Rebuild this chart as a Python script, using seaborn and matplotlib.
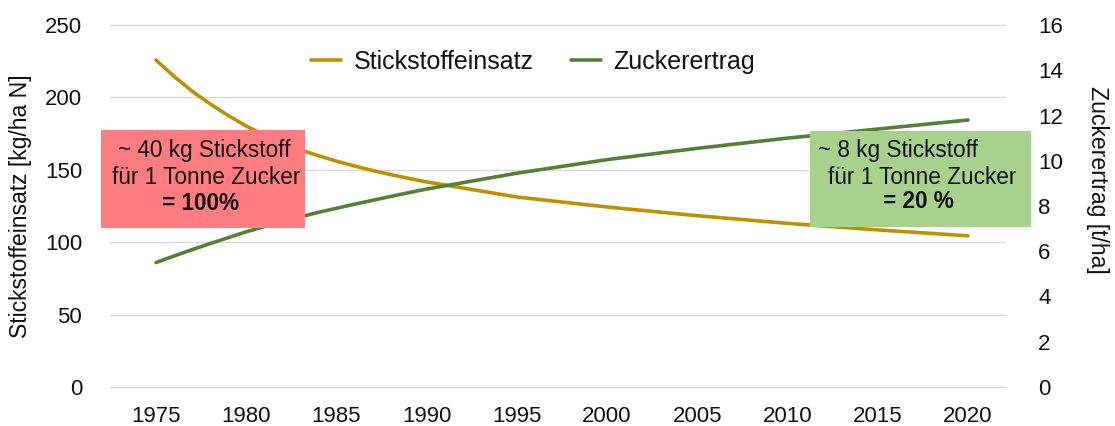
import matplotlib
matplotlib.use("Agg")
import matplotlib.pyplot as plt
import seaborn as sns
import pandas as pd
from matplotlib.patches import Rectangle
from matplotlib.lines import Line2D

# ---- data ----
years = [1975, 1976, 1977, 1978, 1979, 1980, 1981, 1982, 1983, 1984, 1985,
         1986, 1987, 1988, 1989, 1990, 1995, 2000, 2005, 2010, 2015, 2020]
stickstoff = [225.8, 214.5, 204.3, 195.5, 187.5, 180.2, 174.0, 168.5, 163.8, 159.7, 156.0,
              152.6, 149.5, 146.7, 144.1, 141.6, 131.2, 124.3, 118.3, 113.0, 108.5, 104.4]
zucker = [5.5, 5.79, 6.07, 6.34, 6.6, 6.86, 7.09, 7.31, 7.52, 7.72, 7.9,
          8.08, 8.25, 8.42, 8.59, 8.75, 9.45, 10.05, 10.55, 11.0, 11.4, 11.8]
xticks = [1975, 1980, 1985, 1990, 1995, 2000, 2005, 2010, 2015, 2020]
left_ticks = [0, 50, 100, 150, 200, 250]
right_ticks = [0, 2, 4, 6, 8, 10, 12, 14, 16]
series_names = ["Stickstoffeinsatz", "Zuckerertrag"]
left_label = "Stickstoffeinsatz [kg/ha N]"
right_label = "Zuckerertrag [t/ha]"
box1_lines = ["~ 40 kg Stickstoff", "für 1 Tonne Zucker", "= 100%"]
box2_lines = ["~ 8 kg Stickstoff", "für 1 Tonne Zucker", "= 20 %"]

df = pd.DataFrame({"Jahr": years, "N": stickstoff, "Z": zucker})

sns.set_theme(style="white")
plt.rcParams["font.family"] = ["Liberation Sans", "DejaVu Sans"]

YEL = "#BF9000"
GRN = "#548235"
TXT = "#111111"
FS = 16

fig = plt.figure(figsize=(11.15, 4.26), dpi=100)
ax = fig.add_axes([110/1115, 1-387/426, (1005-110)/1115, (387-25)/426])
ax2 = ax.twinx()

sns.lineplot(data=df, x="Jahr", y="N", ax=ax, color=YEL, lw=2.6, legend=False)
sns.lineplot(data=df, x="Jahr", y="Z", ax=ax2, color=GRN, lw=2.6, legend=False)

ax.set_xlim(1972.45, 2022.05)
ax.set_ylim(0, 250)
ax2.set_ylim(0, 16)
ax.set_xticks(xticks)
ax.set_yticks(left_ticks)
ax2.set_yticks(right_ticks)
ax.grid(axis="y", color="#D9D9D9", lw=1)
ax.grid(axis="x", visible=False)
for gl in ax.get_ygridlines():
    gl.set_clip_on(False)
ax2.grid(False)
for a in (ax, ax2):
    for s in a.spines.values():
        s.set_visible(False)
ax.tick_params(axis="x", length=0, pad=14, labelsize=FS, labelcolor=TXT)
ax.tick_params(axis="y", length=0, pad=20, labelsize=FS, labelcolor=TXT)
ax2.tick_params(axis="y", length=0, pad=24, labelsize=FS, labelcolor=TXT)
ax.set_xlabel("")
ax.set_ylabel("")
ax2.set_ylabel("")
fig.text(21/1115, 1-206/426, left_label, rotation=90, ha="center", va="center",
         fontsize=16.6, color=TXT)
fig.text(1098/1115, 1-180/426, right_label, rotation=270, ha="center", va="center",
         fontsize=16.6, color=TXT)

handles = [Line2D([], [], color=YEL, lw=2.6), Line2D([], [], color=GRN, lw=2.6)]
fig.legend(handles, series_names, loc="center", bbox_to_anchor=(533/1115, 1-62/426),
           ncol=2, frameon=False, fontsize=18, handlelength=1.2, handletextpad=0.5,
           columnspacing=1.5, labelcolor=TXT)

# annotation boxes (on top of the lines)
fig.patches.append(Rectangle((101/1115, 1-228/426), 204/1115, 98/426,
                             transform=fig.transFigure, facecolor="#FF7C80",
                             edgecolor="none", zorder=5))
fig.patches.append(Rectangle((810/1115, 1-227/426), 221/1115, 96/426,
                             transform=fig.transFigure, facecolor="#A9D18E",
                             edgecolor="none", zorder=5))
for (xc, yc), t, bold in zip([(204, 150), (206, 177), (201, 204)], box1_lines, [False, False, True]):
    fig.text(xc/1115, 1-yc/426, t, ha="center", va="center", fontsize=16.3,
             fontweight="bold" if bold else "normal", color=TXT, zorder=6)
for (xc, yc), t, bold in zip([(898, 150), (922, 177), (918, 202)], box2_lines, [False, False, True]):
    fig.text(xc/1115, 1-yc/426, t, ha="center", va="center", fontsize=16.3,
             fontweight="bold" if bold else "normal", color=TXT, zorder=6)

fig.savefig("out.png", dpi=100)
